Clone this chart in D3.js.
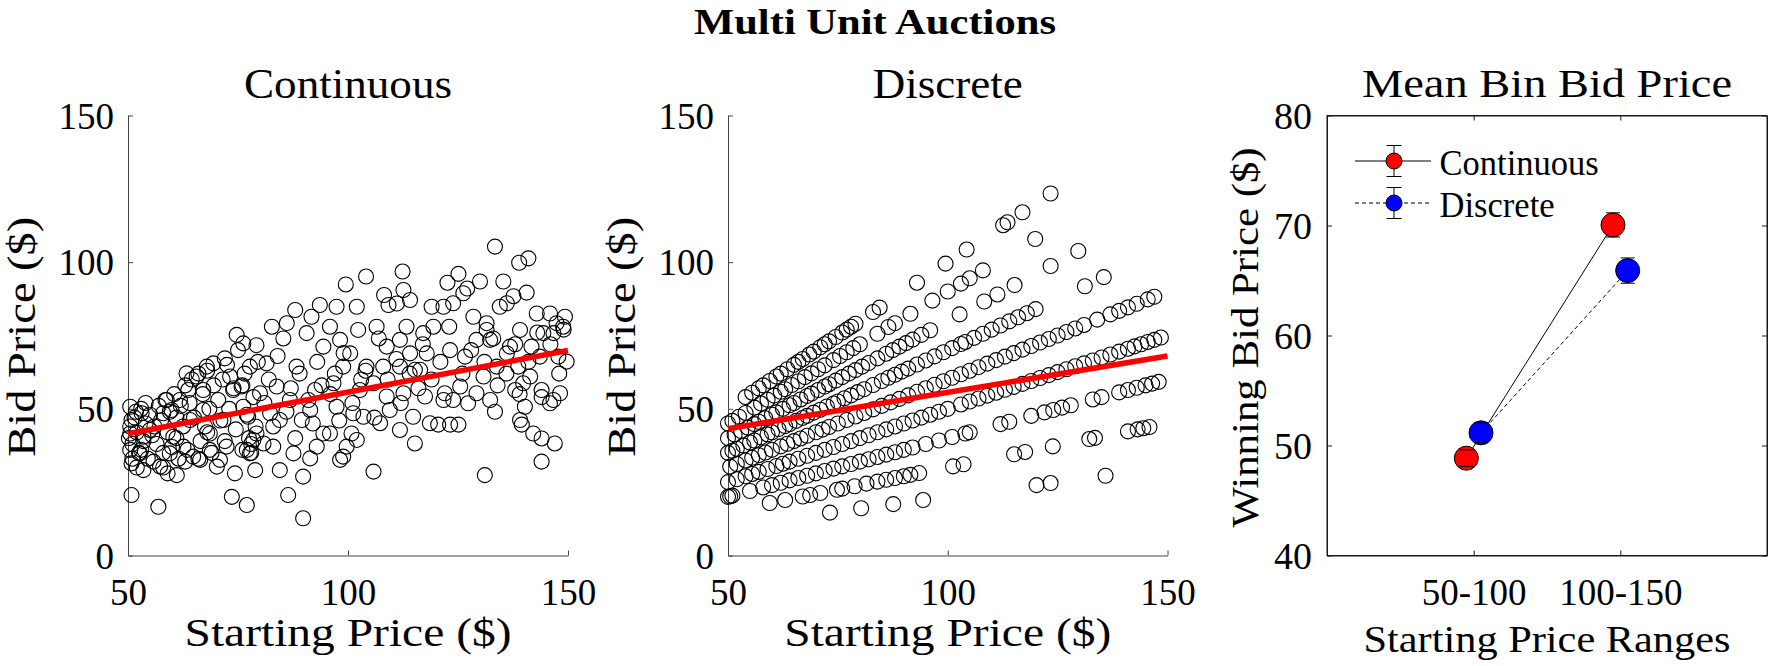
<!DOCTYPE html>
<html><head><meta charset="utf-8">
<script src="https://cdn.jsdelivr.net/npm/d3@7"></script>
<style>body{margin:0;background:#fff;} svg{display:block;}</style>
</head><body>
<svg id="chart" width="1770" height="666"></svg>
<script>
// ---------------- DATA ----------------
const continuousPoints = [
[50.5,50.7],[50.8,46.2],[50.5,41.6],[50.5,36],[50.8,31.4],[50.8,20.6],[53.1,48.5],[53.5,40.5],[52.7,34.8],[53.5,29.1],
[55,42.8],[56.9,16.6],[55.8,32],[57.3,30.3],[58,48.5],[58.8,53],[59.9,49.6],[60.3,40.5],[59.5,34.8],[61.8,53],
[63.3,62.1],[64.1,46.2],[62.6,37.1],[64.8,33.7],[61.1,27.4],[63.7,56.4],[65.6,61],[67.9,64.4],[69.4,65.5],[67.1,49.6],
[68.6,41.6],[66.4,32.6],[70.2,30.3],[68.6,36],[67.1,56.4],[72,67.2],[74.7,75.2],[73.2,61],[73.9,56.4],[71.7,46.2],
[73.6,20],[70.9,32.6],[74.3,28],[72.4,37.1],[77,17.2],[76.2,72.3],[79.2,71.7],[77.7,64.4],[75.8,57.6],[78.5,39.4],
[79.2,41.6],[77.7,34.8],[78.9,29.1],[76.2,50.7],[80,55.3],[77.3,47.3],[82.7,78],[85.3,74],[81.5,65.5],[83.8,57.6],
[82.3,48.5],[83,37.1],[84.5,29.1],[80.8,38.2],[84.5,46.2],[88,83.7],[86.1,79.2],[88.3,64.4],[86.8,53],[89.5,46.2],
[87.6,34.8],[89.8,26.9],[86.4,20.6],[89.8,12.7],[91.7,81.4],[93.6,85.4],[90.6,75.8],[94.4,71.2],[92.5,56.4],[91.4,49.6],
[94.4,41.6],[92.9,37.1],[91.4,33.1],[97.4,84.8],[95.9,78],[98.2,73.5],[98.9,64.4],[96.7,58.7],[97.4,50.7],[98.9,33.7],
[98.2,32.6],[95.9,41.6],[99.7,37.1],[102,84.8],[99.5,92.4],[104.1,95.1],[102.3,76.9],[100.5,68.9],[104.2,64.4],[102.7,56.4],
[101.2,48.5],[103.5,47.3],[102,39.4],[100.8,41.6],[105.8,28.6],[108.2,88.8],[109.2,85.4],[106.5,78],[108.8,71.2],[108,64.4],
[105.8,58.7],[109.5,49.6],[107.3,45.1],[108.8,54.2],[112.4,96.8],[112.6,90.5],[111.1,85.9],[114.1,87.1],[113.3,78],[111.8,73.5],
[114.1,68.9],[115.2,63.3],[111.8,64.4],[112.6,55.3],[114.8,47.3],[111.8,42.8],[115.2,38.2],[117.1,75.8],[119,84.8],[119.4,78],
[117.9,68.9],[116.4,63.3],[118.6,45.1],[120.5,44.6],[117.5,54.2],[122.6,93],[123.9,86],[121.7,84.8],[123.2,70],[122,55.3],
[123.9,53],[123.2,44.6],[125.1,44.6],[121.7,53],[125.1,96],[127.1,91],[126.2,89.4],[128.5,81.4],[130,93.4],[126.6,67.8],
[129.2,73.5],[127.3,51.9],[129.2,55.3],[125.5,57.6],[131.1,27.4],[133.4,105.3],[131.5,79.2],[132.3,73.5],[133.8,64.4],[130.8,61],
[132.3,53],[133.4,49],[131.5,76.9],[134.5,84.8],[135.3,93.4],[136.1,86],[137.6,88.4],[138.9,99.8],[139.1,76.9],[136.8,71.2],
[138.7,64.4],[139.8,58.7],[136.1,68.9],[139.1,46.2],[139.5,44.6],[140.2,50.7],[138,56.4],[141,101.3],[140.6,89.6],[142.9,82.5],
[144.4,75.8],[141.7,71.2],[143.6,67.8],[141.4,61],[144,56.4],[144,39.9],[144,32],[142.1,41.6],[145.9,82.5],[147.4,79.2],
[146.7,75.8],[148.9,78],[149.3,81.4],[146.7,53],[145.9,51.9],[147,38.2],[147.8,67.8],[149.7,66.1],[148.2,55.3],
[50.5,44],[51,38],[51.5,47],[52,42],[52.5,35],[53,50],[53.5,39],[54,45],[54.5,33],[55,48],[55.5,41],[52,30],[51,33],
[53,36],[56,44],[54,52],[50.2,40],[51.8,49],[56.5,38],[57,51],[57.5,46],[58,35],[58.5,53],[59,42],[59.5,49],[60,37],
[60.5,55],[61,47],[61.5,33],[62,51],[58,30],[59,28],[61,40],[62.5,44],[63,58],[63.5,36],[64,52],[64.5,60],[65,47],
[66,62],[66.5,39],[67,55],[67.5,44],[68,63],[68.5,50],[69,35],[69.5,58],[63,32],[66,33],[68,42],[70.5,53],[71,46],
[71.5,60],[72,39],[72.5,65],[73,50],[74,57],[74.5,43],[75,70],[76,36],[76.5,62],[77,48],[77.5,40],[78,38],[78.5,54],
[79,44],[79.5,66],[77,36],[78,35],[76,58],[81,52],[82,60],[83,44],[84,68],[86,49],[87,57],[88,40],[89,62],[91,53],
[92,45],[93,66],[94,58],[96,55],[97,62],[98,46],[99,69],[101,52],[103,60],[104,63],[106,47],[107,74],[109,60],[111,67],
[112,52],[114,62],[116,57],[117,72],[119,60],[121,66],[123,78],[126,62],[128,70],[131,66],[133,74],[134,58],[136,62],
[138,72],[141,66],[143,76],[146,72],[148,62],[149,77],[144,54],[139,55]
];

const discretePoints = [
// bid = start
[54,54],[55.5,55.5],[57,57],[58,58],[59.5,59.5],[61,61],[62,62],[63.5,63.5],[65,65],[66,66],[67,67],[68.5,68.5],
[69.5,69.5],[71,71],[72,72],[73,73],[74.5,74.5],[76,76],[77,77],[78,78],[79,79],[83,83],[84.5,84.5],[93,93],
[99.5,99.5],[104.3,104.3],[112.6,112.6],[113.6,113.6],[117,117],[123.4,123.4],
// 0.9
[50,45],[51,45.9],[52.5,47.3],[54,48.6],[56,50.4],[57.5,51.8],[59,53.1],[60.5,54.5],[62,55.8],[63,56.7],[64.5,58.1],
[66,59.4],[67.5,60.8],[69,62.1],[70.5,63.5],[72,64.8],[74,66.6],[75.5,68],[77,69.3],[78.5,70.7],[80,72],[84,75.6],
[86.5,77.9],[88,79.2],[91.5,82.4],[96.5,86.9],[100,90],[103,92.7],[105,94.5],[108,97.2],[119.9,107.9],
// 0.8
[50,40],[51.5,41.2],[53,42.4],[54.5,43.6],[56,44.8],[57,45.6],[58.5,46.8],[60,48],[61,48.8],[62.5,50],[64,51.2],
[65,52],[66.5,53.2],[68,54.4],[69,55.2],[70.5,56.4],[72,57.6],[73,58.4],[74.5,59.6],[76,60.8],[77.5,62],[79,63.2],
[80.5,64.4],[82,65.6],[84,67.2],[86,68.8],[87.5,70],[89,71.2],[90.5,72.4],[92,73.6],[94,75.2],[96,76.8],[102.7,82.2],
[108.3,86.6],[111.3,89],[115.2,92.2],[123.4,98.7],[129.7,103.8],
// 0.7
[50,35],[51,35.7],[52,36.4],[53.5,37.5],[55,38.5],[56,39.2],[57.5,40.3],[59,41.3],[60,42],[61.5,43.1],[63,44.1],
[64,44.8],[65.5,45.9],[67,46.9],[68,47.6],[69.5,48.7],[71,49.7],[72.5,50.8],[74,51.8],[75,52.5],[76.5,53.6],[78,54.6],
[79.5,55.7],[81,56.7],[83,58.1],[85,59.5],[86.5,60.6],[88,61.6],[89.5,62.7],[91,63.7],[93,65.1],[95,66.5],[97,67.9],
[99,69.3],[101,70.7],[103,72.1],[104,72.8],[106,74.2],[108,75.6],[110,77],[112,78.4],[114,79.8],[116,81.2],[118,82.6],
[120,84],[131.2,91.8],[135.5,94.9],
// 0.6
[50.5,30.3],[52,31.2],[54,32.4],[55.5,33.3],[57,34.2],[58.5,35.1],[60,36],[62,37.2],[63.5,38.1],[65,39],[66.5,39.9],
[68,40.8],[70,42],[71.5,42.9],[73,43.8],[75,45],[77,46.2],[79,47.4],[81,48.6],[83,49.8],[85,51],[87,52.2],[89,53.4],
[91,54.6],[93,55.8],[95,57],[97,58.2],[99,59.4],[101,60.6],[103,61.8],[105,63],[107,64.2],[109,65.4],[111,66.6],
[113,67.8],[115,69],[117,70.2],[119,71.4],[121,72.6],[123,73.8],[125,75],[127,76.2],[129,77.4],[131,78.6],[134,80.4],
[137,82.2],[139,83.4],[141,84.6],[143,85.8],[145.5,87.3],[147,88.2],
// 0.5
[50,25],[52,26],[54,27],[55.5,27.8],[57,28.5],[59,29.5],[61,30.5],[62.5,31.3],[64,32],[66,33],[68,34],[70,35],
[72,36],[74,37],[76,38],[78,39],[80,40],[82,41],[84,42],[86,43],[88,44],[90,45],[92,46],[94,47],[96,48],[98,49],
[100,50],[103,51.5],[105,52.5],[107,53.5],[109,54.5],[111,55.5],[113,56.5],[115,57.5],[117,58.5],[119,59.5],[121,60.5],
[123,61.5],[125,62.5],[127,63.5],[129,64.5],[131,65.5],[133,66.5],[135,67.5],[137,68.5],[139,69.5],[141,70.5],
[142.5,71.3],[144,72],[145.5,72.8],[147,73.5],[148.5,74.3],
// 0.4
[50,20],[50.5,20.2],[51,20.4],[55,22],[58,23.2],[60,24],[62,24.8],[64,25.6],[66,26.4],[68,27.2],[70,28],[72,28.8],
[74,29.6],[76,30.4],[78,31.2],[80,32],[82,32.8],[84,33.6],[86,34.4],[88,35.2],[90,36],[92,36.8],[95,38],[98,39.2],
[101,40.4],[104,41.6],[105,42],[112,44.8],[114,45.6],[119,47.6],[122,48.8],[124,49.6],[126,50.4],[128,51.2],[133,53.2],
[135,54],[139,55.6],[141,56.4],[143,57.2],[145,58],[146.5,58.6],[148,59.2],
// 0.3
[59.5,17.9],[63,18.9],[67,20.1],[68.7,20.6],[71,21.3],[74.8,22.4],[76,22.8],[78.8,23.6],[81.5,24.5],[84,25.2],
[86,25.8],[88,26.4],[90,27],[91.5,27.5],[93.5,28.1],[101.2,30.4],[103.6,31.1],[115.1,34.5],[117.6,35.3],[123.9,37.2],
[132.2,39.7],[133.5,40.1],[141,42.3],[143.2,43],[144.5,43.4],[145.9,43.8],
// 0.2
[73.2,14.6],[80.3,16.1],[87.6,17.5],[94.4,18.9],[120.2,24],[123.4,24.7],[135.9,27.2]
];

const continuousFit = [[50, 41.5], [150, 69.9]];
const discreteFit = [[50, 43.2], [150, 68.0]];
const scatterXTicks = [50, 100, 150];
const scatterYTicks = [0, 50, 100, 150];

const binLabels = ["50-100", "100-150"];
const contMeans = [48.85, 70.05];
const contErr = [0.75, 1.1];
const discMeans = [51.15, 65.9];
const discErr = [0.9, 1.15];
const meanYTicks = [40, 50, 60, 70, 80];
const seriesNames = ["Continuous", "Discrete"];

// ---------------- DRAWING ----------------
const svg = d3.select("#chart");
svg.append("rect").attr("width", 1770).attr("height", 666).attr("fill", "#fff");
const FONT = "Liberation Serif";
const TOP = 115.5, BOTTOM = 555.5;

function label(g, txt, x, y, size, len, opts = {}) {
  const t = g.append("text").attr("x", x).attr("y", y)
    .attr("font-family", FONT).attr("font-size", size)
    .attr("text-anchor", opts.anchor || "middle")
    .attr("fill", "#000").text(txt);
  if (len) t.attr("textLength", len).attr("lengthAdjust", "spacingAndGlyphs");
  if (opts.bold) t.attr("font-weight", "bold");
  if (opts.rotate) t.attr("transform", `rotate(-90,${x},${y})`);
  return t;
}

function styleAxis(sel, color) {
  sel.attr("font-family", FONT);
  sel.selectAll(".domain").attr("stroke", color).attr("stroke-width", 1);
  sel.selectAll(".tick line").attr("stroke", color).attr("stroke-width", 1);
  sel.selectAll(".tick text").attr("font-family", FONT).attr("font-size", 37).attr("fill", "#000");
}

function scatterPanel(left, right, points, fit, title, titleLen) {
  const x = d3.scaleLinear().domain([50, 150]).range([left, right]);
  const y = d3.scaleLinear().domain([0, 150]).range([BOTTOM, TOP]);
  const g = svg.append("g");

  const xa = g.append("g").attr("transform", `translate(0,${BOTTOM})`)
    .call(d3.axisBottom(x).tickValues(scatterXTicks).tickSizeInner(-5).tickSizeOuter(0).tickFormat(d3.format("d")));
  styleAxis(xa, "#444");
  xa.selectAll(".tick text").attr("y", 49.5).attr("dy", 0);

  const ya = g.append("g").attr("transform", `translate(${left},0)`)
    .call(d3.axisLeft(y).tickValues(scatterYTicks).tickSizeInner(-5).tickSizeOuter(0).tickFormat(d3.format("d")));
  styleAxis(ya, "#444");
  ya.selectAll(".tick text").attr("x", -14).attr("dy", "0.34em");

  g.append("g").selectAll("circle").data(points).join("circle")
    .attr("cx", d => x(d[0])).attr("cy", d => y(d[1])).attr("r", 7.5)
    .attr("fill", "none").attr("stroke", "#000").attr("stroke-width", 1.1);

  g.append("path").datum(fit)
    .attr("d", d3.line().x(d => x(d[0])).y(d => y(d[1])))
    .attr("stroke", "#ff0000").attr("stroke-width", 5.5).attr("fill", "none");

  const cx = (left + right) / 2;
  label(g, title, cx, 98, 43, titleLen);
  label(g, "Starting Price ($)", cx, 646, 40, 327);
  label(g, "Bid Price ($)", left - 93, 336.7, 40, 240, { rotate: true });
}

scatterPanel(128, 568, continuousPoints, continuousFit, "Continuous", 208);
scatterPanel(728, 1167.5, discretePoints, discreteFit, "Discrete", 150);

// main title
label(svg, "Multi Unit Auctions", 875, 34, 36, 362, { bold: true });

// ---- Panel 3 ----
(function () {
  const L = 1327, R = 1767;
  const x = d3.scaleLinear().domain([0, 3]).range([L, R]);
  const y = d3.scaleLinear().domain([40, 80]).range([BOTTOM, TOP]);
  const g = svg.append("g");
  const color = "#1a1a1a";

  g.append("rect").attr("x", L).attr("y", TOP).attr("width", R - L).attr("height", BOTTOM - TOP)
    .attr("fill", "none").attr("stroke", color).attr("stroke-width", 1);

  const ya = g.append("g").attr("transform", `translate(${L},0)`)
    .call(d3.axisLeft(y).tickValues(meanYTicks).tickSizeInner(-5).tickSizeOuter(0));
  styleAxis(ya, color);
  ya.selectAll(".tick text").attr("x", -15).attr("dy", "0.34em").attr("font-size", 38);
  const yr = g.append("g").attr("transform", `translate(${R},0)`)
    .call(d3.axisRight(y).tickValues(meanYTicks).tickSizeInner(-5).tickSizeOuter(0).tickFormat(""));
  styleAxis(yr, color);
  const xa = g.append("g").attr("transform", `translate(0,${BOTTOM})`)
    .call(d3.axisBottom(x).tickValues([1, 2]).tickSizeInner(-5).tickSizeOuter(0).tickFormat(d => binLabels[d - 1]));
  styleAxis(xa, color);
  xa.selectAll(".tick text").attr("y", 49.5).attr("dy", 0);
  const xt = g.append("g").attr("transform", `translate(0,${TOP})`)
    .call(d3.axisTop(x).tickValues([1, 2]).tickSizeInner(-5).tickSizeOuter(0).tickFormat(""));
  styleAxis(xt, color);

  const series = [
    { means: contMeans, err: contErr, off: -0.05, fill: "#ff0000", dash: null },
    { means: discMeans, err: discErr, off: 0.05, fill: "#0000ff", dash: "4,3" }
  ];
  series.forEach(s => {
    const pts = s.means.map((m, i) => [i + 1 + s.off, m, s.err[i]]);
    g.append("path").datum(pts)
      .attr("d", d3.line().x(d => x(d[0])).y(d => y(d[1])))
      .attr("stroke", "#000").attr("stroke-width", 1).attr("fill", "none")
      .attr("stroke-dasharray", s.dash);
  });
  series.forEach(s => {
    const pts = s.means.map((m, i) => [i + 1 + s.off, m, s.err[i]]);
    const eg = g.append("g");
    eg.selectAll("line.stem").data(pts).join("line")
      .attr("x1", d => x(d[0])).attr("x2", d => x(d[0]))
      .attr("y1", d => y(d[1] - d[2])).attr("y2", d => y(d[1] + d[2]))
      .attr("stroke", "#000").attr("stroke-width", 1);
    eg.selectAll("circle").data(pts).join("circle")
      .attr("cx", d => x(d[0])).attr("cy", d => y(d[1])).attr("r", 12)
      .attr("fill", s.fill).attr("stroke", "#000").attr("stroke-width", 1);
    [-1, 1].forEach(sg => {
      eg.selectAll(null).data(pts).join("line")
        .attr("x1", d => x(d[0]) - 7).attr("x2", d => x(d[0]) + 7)
        .attr("y1", d => y(d[1] + sg * d[2])).attr("y2", d => y(d[1] + sg * d[2]))
        .attr("stroke", "#000").attr("stroke-width", 1);
    });
  });

  // legend
  const lg = g.append("g");
  const rows = [{ y: 161, fill: "#ff0000", dash: null, len: 159 }, { y: 203, fill: "#0000ff", dash: "4,3", len: 115 }];
  rows.forEach((r, i) => {
    lg.append("line").attr("x1", 1355).attr("x2", 1431).attr("y1", r.y).attr("y2", r.y)
      .attr("stroke", "#000").attr("stroke-width", 1).attr("stroke-dasharray", r.dash);
    lg.append("line").attr("x1", 1394).attr("x2", 1394).attr("y1", r.y - 15.5).attr("y2", r.y + 15.5)
      .attr("stroke", "#000").attr("stroke-width", 1);
    [-15.5, 15.5].forEach(dy => lg.append("line").attr("x1", 1386.5).attr("x2", 1401.5)
      .attr("y1", r.y + dy).attr("y2", r.y + dy).attr("stroke", "#000").attr("stroke-width", 1));
    lg.append("circle").attr("cx", 1394).attr("cy", r.y).attr("r", 8)
      .attr("fill", r.fill).attr("stroke", "#000").attr("stroke-width", 1);
    label(lg, seriesNames[i], 1439.6, r.y + 13.5, 35, r.len, { anchor: "start" });
  });

  label(g, "Mean Bin Bid Price", (L + R) / 2, 97, 39, 370);
  label(g, "Starting Price Ranges", (L + R) / 2, 652, 38, 367);
  label(g, "Winning Bid Price ($)", 1258, 337.4, 38, 380, { rotate: true });
})();
</script>
</body></html>
